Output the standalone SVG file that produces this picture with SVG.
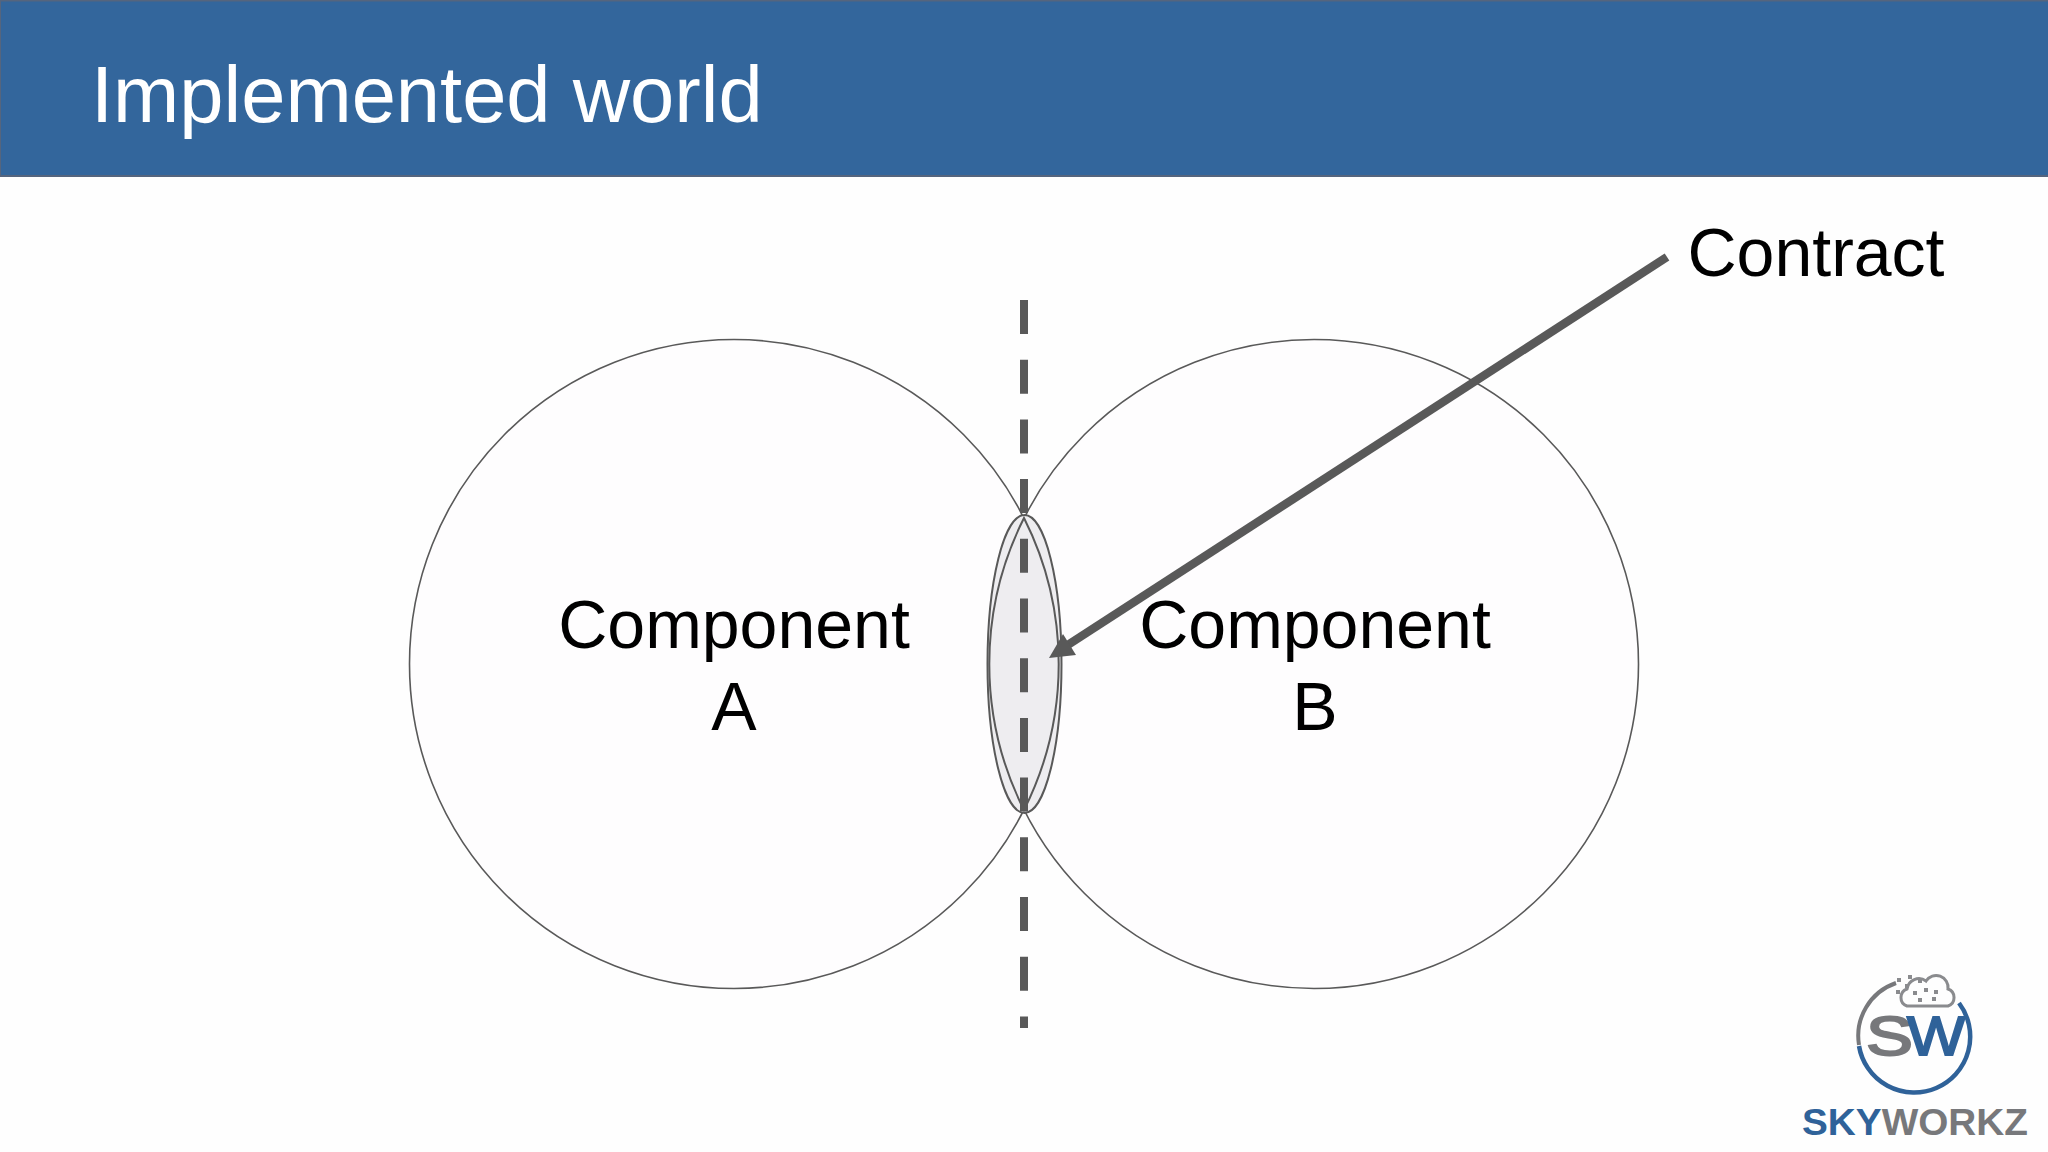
<svg xmlns="http://www.w3.org/2000/svg" width="2048" height="1152" viewBox="0 0 2048 1152">
<style>
text{font-family:"Liberation Sans",Arial,sans-serif}
.lbl{font-size:68px;fill:#000;text-anchor:middle}
.circ{fill:#fefdfe;stroke:#595959;stroke-width:1.6}
.lens{fill:#eeedf0;stroke:#595959;stroke-width:2}
.blue{fill:#2f6299}
.gray{fill:#77787b}
</style>
<rect width="2048" height="1152" fill="#fefefe"/>
<g id="header">
<rect x="0" y="0" width="2048" height="176" fill="#33669c"/>
<rect x="0" y="0" width="2048" height="1.5" fill="#55657e"/>
<rect x="0" y="0" width="1" height="176" fill="#55657e"/>
<rect x="0" y="175" width="2048" height="2" fill="#55657e"/>
<text x="91" y="122" font-size="79.5" fill="#fff">Implemented world</text>
</g>
<g id="component-a">
<circle cx="734" cy="664" r="324.5" fill="#fefdfe" stroke="#595959" stroke-width="1.6"/>
</g>
<g id="component-b">
<circle cx="1314" cy="664" r="324.5" fill="#fefdfe" stroke="#595959" stroke-width="1.6"/>
</g>
<g id="contract-area">
<ellipse class="lens" cx="1024.5" cy="664" rx="37" ry="149"/>
<path class="lens" style="fill:none" d="M1024 518A324.5 324.5 0 0 1 1024 810A324.5 324.5 0 0 1 1024 518Z"/>
</g>
<g id="connectors">
<line x1="1024" y1="300" x2="1024" y2="1028" stroke="#595959" stroke-width="8" stroke-dasharray="34 25.7"/>
<line x1="1667" y1="257" x2="1060" y2="650" stroke="#595959" stroke-width="8.5"/>
<polygon points="1049,658 1063,634 1076,655" fill="#595959"/>
</g>
<g id="labels">
<text class="lbl" x="734" y="648">Component</text>
<text class="lbl" x="734" y="730">A</text>
<text class="lbl" x="1315" y="648">Component</text>
<text class="lbl" x="1315" y="730">B</text>
<text class="lbl" x="1816" y="276">Contract</text>
</g>
<g id="logo">
<path d="M1859 1045A56 56 0 0 1 1896 983" fill="none" stroke="#77787b" stroke-width="4"/>
<path d="M1859 1046A56 56 0 1 0 1959 1003" fill="none" stroke="#2f6299" stroke-width="4.5"/>
<path d="M1907 1006a9 9 0 0 1 0-17a12 12 0 0 1 19-8a12 12 0 0 1 22 8a9 9 0 0 1 0 17Z" fill="#fefefe" stroke="#8a8b8e" stroke-width="3"/>
<g fill="#8a8b8e"><rect x="1897" y="978" width="4" height="4"/><rect x="1905" y="984" width="4" height="4"/><rect x="1896" y="990" width="4" height="4"/><rect x="1908" y="975" width="4" height="4"/><rect x="1918" y="979" width="4" height="4"/><rect x="1913" y="991" width="4" height="4"/><rect x="1924" y="988" width="4" height="4"/><rect x="1934" y="990" width="4" height="4"/><rect x="1918" y="998" width="4" height="4"/><rect x="1932" y="997" width="4" height="4"/></g>
<text x="1866" y="1055" font-size="56" class="gray" stroke="#77787b" stroke-width="2" textLength="47" lengthAdjust="spacingAndGlyphs">S</text>
<text x="1907" y="1055" font-size="56" class="blue" stroke="#2f6299" stroke-width="2" textLength="58" lengthAdjust="spacingAndGlyphs">W</text>
<text x="1802" y="1135" font-size="36" font-weight="700" textLength="226" lengthAdjust="spacingAndGlyphs"><tspan class="blue">SKY</tspan><tspan class="gray">WORKZ</tspan></text>
</g>
</svg>
